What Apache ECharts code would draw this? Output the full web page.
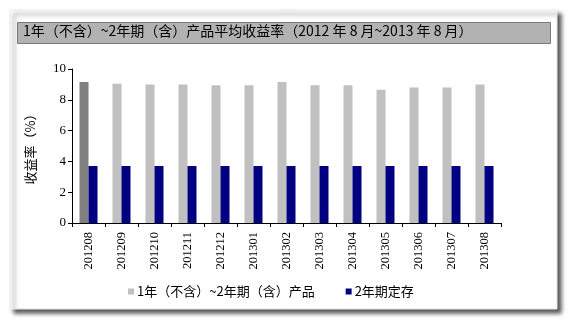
<!DOCTYPE html>
<html><head><meta charset="utf-8">
<script src="https://cdn.jsdelivr.net/npm/echarts@6/dist/echarts.min.js"></script>
<style>html,body{margin:0;padding:0;background:#fff;}#c{width:569px;height:322px;}</style>
</head><body><div id="c"></div>
<script>
var categories = ['201208','201209','201210','201211','201212','201301','201302','201303','201304','201305','201306','201307','201308'];
var productYield = [9.15, 9.05, 9.0, 9.0, 8.95, 8.95, 9.15, 8.95, 8.95, 8.65, 8.8, 8.8, 9.0];
var depositYield = [3.7, 3.7, 3.7, 3.7, 3.7, 3.7, 3.7, 3.7, 3.7, 3.7, 3.7, 3.7, 3.7];
var yTicks = [0, 2, 4, 6, 8, 10];
var titleText = '1年（不含）~2年期（含）产品平均收益率（2012 年 8 月~2013 年 8 月）';
var seriesNames = ['1年（不含）~2年期（含）产品', '2年期定存'];

var chart = echarts.init(document.getElementById('c'), null, {renderer: 'canvas'});
var cjk = '"Noto Sans CJK SC", sans-serif';
var serif = '"Liberation Serif", "DejaVu Serif", serif';
chart.setOption({
  animation: false,
  backgroundColor: '#fff',
  graphic: [
    {type: 'rect', z: -10, shape: {x: 10, y: 10, width: 547, height: 299},
     style: {fill: '#fff', stroke: '#e8e8e8', lineWidth: 1, shadowColor: 'rgba(0,0,0,0.65)', shadowBlur: 4, shadowOffsetX: 4, shadowOffsetY: 4}},
    {type: 'rect', z: -5, shape: {x: 17.5, y: 22.5, width: 533, height: 21},
     style: {fill: '#b2b2b2', stroke: '#7a7a7a', lineWidth: 1}},
    {type: 'text', z: 5, left: 23, top: 24,
     style: {text: titleText, font: '14px ' + cjk, fill: '#000'}}
  ],
  grid: {left: 72, right: 68, top: 69, bottom: 99, containLabel: false},
  legend: {
    left: 123, top: 280, itemWidth: 6, itemHeight: 6, itemGap: 31,
    icon: 'rect',
    textStyle: {fontFamily: cjk, fontSize: 13, color: '#000', padding: [0, 0, 0, -2]},
    data: [{name: seriesNames[0], itemStyle: {color: '#c0c0c0'}}, {name: seriesNames[1], itemStyle: {color: '#000080'}}]
  },
  xAxis: {
    type: 'category', data: categories,
    axisLine: {lineStyle: {color: '#000', width: 1}},
    axisTick: {show: true, length: 4, inside: false, lineStyle: {color: '#000'}},
    axisLabel: {rotate: 90, fontFamily: serif, fontSize: 12.5, color: '#000', margin: 9, interval: 0}
  },
  yAxis: {
    type: 'value', min: 0, max: 10, interval: 2,
    name: '收益率（%）', nameLocation: 'middle', nameGap: 35, nameRotate: 90,
    nameTextStyle: {fontFamily: cjk, fontSize: 13, color: '#000'},
    axisLine: {show: true, lineStyle: {color: '#000', width: 1}},
    axisTick: {show: true, length: 4, lineStyle: {color: '#000'}},
    axisLabel: {fontFamily: serif, fontSize: 13, color: '#000', margin: 6,
      formatter: function (v) { return yTicks.indexOf(v) >= 0 ? String(v) : ''; }},
    splitLine: {show: false}
  },
  series: [
    {name: seriesNames[0], type: 'bar', barWidth: 9, barGap: '0%',
     itemStyle: {color: '#c0c0c0'},
     data: productYield.map(function (v, i) { return i === 0 ? {value: v, itemStyle: {color: '#808080'}} : v; })},
    {name: seriesNames[1], type: 'bar', barWidth: 9, barGap: '0%',
     itemStyle: {color: '#000080'}, data: depositYield}
  ]
});
</script></body></html>
